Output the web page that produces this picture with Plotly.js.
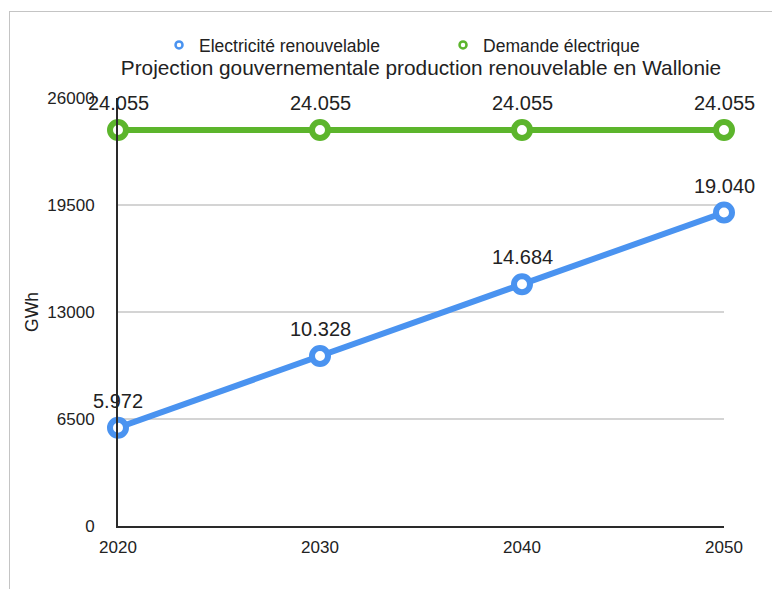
<!DOCTYPE html>
<html>
<head>
<meta charset="utf-8">
<script src="https://cdn.plot.ly/plotly-3.0.1.min.js"></script>
<style>
  html, body { margin: 0; padding: 0; background: #fff; }
  #wrap { position: relative; width: 772px; height: 589px; overflow: hidden; }
  #chart { width: 772px; height: 589px; }
  #frame { position: absolute; left: 9px; top: 11px; width: 780px; height: 600px;
           border-top: 1px solid #c4c4c4; border-left: 1px solid #c4c4c4; pointer-events: none; }
</style>
</head>
<body>
<div id="wrap">
  <div id="chart"></div>
  <div id="frame"></div>
</div>
<script>
const years = [2020, 2030, 2040, 2050];
const renouvelable = [5972, 10328, 14684, 19040];
const demande = [24055, 24055, 24055, 24055];
const seriesNames = ["Electricité renouvelable", "Demande électrique"];
const yTickVals = [0, 6500, 13000, 19500, 26000];
const yTickText = ["0", "6500", "13000", "19500", "26000"];
const xTickText = ["2020", "2030", "2040", "2050"];

const FONT = "Liberation Sans, Arial, Helvetica, sans-serif";
const BLUE = "#4a93f0";
const GREEN = "#5cb52c";

function fmt(v) { return String(v).replace(/\B(?=(\d{3})+(?!\d))/g, "."); }

function lineTrace(y, color) {
  return {
    x: years, y: y, type: "scatter", mode: "lines+markers",
    showlegend: false, cliponaxis: false,
    line: { color: color, width: 6 },
    marker: { symbol: "circle", size: 16, color: "#ffffff", line: { color: color, width: 6 } },
    hoverinfo: "x+y"
  };
}
function legendTrace(name, color) {
  return {
    x: [null], y: [null], type: "scatter", mode: "markers", name: name,
    marker: { symbol: "circle", size: 7, color: "#ffffff", line: { color: color, width: 2.5 } }
  };
}

const data = [
  lineTrace(renouvelable, BLUE),
  lineTrace(demande, GREEN),
  legendTrace(seriesNames[0], BLUE),
  legendTrace(seriesNames[1], GREEN)
];

const annotations = [];
[renouvelable, demande].forEach(function (series) {
  series.forEach(function (v, i) {
    annotations.push({
      x: years[i], y: v, xref: "x", yref: "y", text: fmt(v), showarrow: false,
      xanchor: "center", yanchor: "middle", yshift: 27,
      font: { family: FONT, size: 20, color: "#222" }
    });
  });
});

const layout = {
  width: 772, height: 589,
  margin: { l: 118, r: 48, t: 98, b: 63 },
  paper_bgcolor: "#ffffff", plot_bgcolor: "#ffffff",
  font: { family: FONT, color: "#222" },
  annotations: annotations,
  title: {
    text: "Projection gouvernementale production renouvelable en Wallonie",
    font: { family: FONT, size: 20.8, color: "#222" },
    xref: "paper", x: 0.5, xanchor: "center",
    yref: "container", y: 1 - 68 / 589, yanchor: "middle"
  },
  legend: {
    orientation: "h", xref: "paper", x: 0.0677, xanchor: "left",
    yref: "container", y: 1 - 45 / 589, yanchor: "middle",
    entrywidth: 239, entrywidthmode: "pixels",
    font: { family: FONT, size: 17.5, color: "#222" },
    itemclick: false
  },
  xaxis: {
    type: "linear", range: [2020, 2050], tickvals: years, ticktext: xTickText,
    showgrid: false, zeroline: false, showline: true, linecolor: "#2a2a2a", linewidth: 2,
    ticks: "", ticklabelstandoff: 5,
    tickfont: { family: FONT, size: 17, color: "#222" }
  },
  yaxis: {
    range: [0, 26000], tickvals: yTickVals, ticktext: yTickText,
    showgrid: true, gridcolor: "#d4d4d4", gridwidth: 1.2,
    zeroline: false, showline: true, linecolor: "#2a2a2a", linewidth: 2,
    ticks: "", ticklabelstandoff: 18,
    tickfont: { family: FONT, size: 17, color: "#222" },
    title: { text: "GWh", font: { family: FONT, size: 17.5, color: "#222" }, standoff: 4 }
  }
};

Plotly.newPlot("chart", data, layout, { displayModeBar: false, staticPlot: true });
</script>
</body>
</html>
